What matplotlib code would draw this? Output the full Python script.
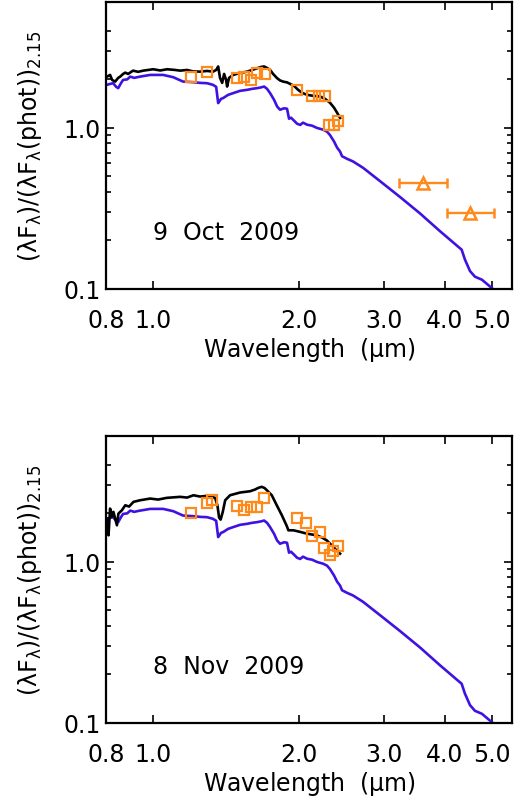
import matplotlib
matplotlib.use('Agg')
import matplotlib.pyplot as plt
from matplotlib.ticker import NullLocator, FixedLocator, NullFormatter

plt.rcParams['font.family'] = 'DejaVu Sans'
plt.rcParams['mathtext.fontset'] = 'dejavusans'
plt.rcParams['mathtext.default'] = 'regular'

# model photosphere (same model in both panels)
model_wave = [0.803, 0.815, 0.827, 0.839, 0.847, 0.859, 0.867, 0.884, 0.897, 0.914,
              0.927, 0.940, 0.986, 1.049, 1.100, 1.126, 1.153, 1.209, 1.250, 1.292,
              1.329, 1.349, 1.362, 1.381, 1.394, 1.428, 1.462, 1.511, 1.563, 1.600,
              1.638, 1.670, 1.694, 1.718, 1.743, 1.776, 1.802, 1.827, 1.863, 1.889,
              1.907, 1.925, 1.953, 1.981, 2.010, 2.038, 2.078, 2.127, 2.178, 2.241,
              2.284, 2.317, 2.362, 2.396, 2.430, 2.453, 2.512, 2.585, 2.710, 2.938,
              3.229, 3.552, 3.906, 4.330, 4.398, 4.505, 4.612, 4.768, 5.020]
model_flux = [1.843, 1.868, 1.887, 1.791, 1.758, 1.896, 1.977, 1.993, 2.073, 2.036,
              2.056, 2.073, 2.124, 2.124, 2.056, 1.993, 1.931, 1.915, 1.896, 1.887,
              1.843, 1.791, 1.420, 1.510, 1.525, 1.598, 1.637, 1.692, 1.717, 1.741,
              1.758, 1.778, 1.799, 1.741, 1.637, 1.489, 1.353, 1.292, 1.319, 1.310,
              1.137, 1.153, 1.105, 1.058, 1.040, 1.074, 1.043, 1.029, 0.996, 0.972,
              0.945, 0.899, 0.820, 0.752, 0.711, 0.665, 0.641, 0.617, 0.564, 0.466,
              0.372, 0.294, 0.228, 0.175, 0.152, 0.129, 0.119, 0.114, 0.100]

# observed spectrum, 9 Oct 2009
oct_wave = [0.803, 0.815, 0.823, 0.835, 0.847, 0.855, 0.867, 0.876, 0.888, 0.909,
            0.931, 0.954, 1.000, 1.034, 1.069, 1.110, 1.137, 1.175, 1.209, 1.250,
            1.292, 1.329, 1.349, 1.362, 1.374, 1.388, 1.401, 1.414, 1.421, 1.434,
            1.462, 1.511, 1.563, 1.600, 1.638, 1.670, 1.694, 1.718, 1.743, 1.768,
            1.802, 1.827, 1.854, 1.889, 1.917, 1.953, 1.991, 2.029, 2.078, 2.138,
            2.210, 2.262, 2.317, 2.362, 2.396, 2.430]
oct_flux = [2.073, 2.124, 1.977, 1.931, 2.036, 2.073, 2.154, 2.194, 2.154, 2.258,
            2.220, 2.258, 2.303, 2.264, 2.303, 2.280, 2.258, 2.280, 2.233, 2.226,
            2.248, 2.226, 2.280, 2.397, 2.036, 1.896, 2.154, 1.977, 1.799, 2.036,
            2.124, 2.185, 2.226, 2.280, 2.336, 2.380, 2.397, 2.345, 2.280, 2.154,
            2.027, 1.964, 1.931, 1.909, 1.868, 1.816, 1.717, 1.644, 1.598, 1.576,
            1.561, 1.510, 1.427, 1.329, 1.238, 1.148]

# observed spectrum, 8 Nov 2009
nov_wave = [0.803, 0.809, 0.815, 0.822, 0.828, 0.842, 0.848, 0.862, 0.876, 0.892,
            0.911, 0.940, 0.986, 1.024, 1.067, 1.137, 1.175, 1.211, 1.250, 1.290,
            1.323, 1.342, 1.357, 1.368, 1.378, 1.392, 1.408, 1.441, 1.511, 1.585,
            1.623, 1.649, 1.675, 1.698, 1.716, 1.757, 1.799, 1.843, 1.887, 1.901,
            1.947, 2.010, 2.075, 2.175, 2.231, 2.281, 2.317, 2.353, 2.392, 2.430]
nov_flux = [1.849, 1.457, 2.134, 1.904, 2.036, 1.681, 1.987, 2.083, 2.237, 2.196,
            2.349, 2.403, 2.462, 2.427, 2.487, 2.523, 2.497, 2.581, 2.533, 2.559,
            2.515, 2.487, 2.237, 1.876, 1.823, 2.036, 2.403, 2.581, 2.683, 2.733,
            2.801, 2.870, 2.911, 2.861, 2.773, 2.581, 2.237, 1.940, 1.662, 1.565,
            1.565, 1.530, 1.492, 1.457, 1.410, 1.356, 1.294, 1.234, 1.170, 1.121]

# narrow-band photometry
oct_phot_wave = [1.196, 1.294, 1.488, 1.542, 1.590, 1.638, 1.698, 1.981, 2.127, 2.194,
                 2.262, 2.306, 2.362, 2.409]
oct_phot_flux = [2.056, 2.207, 2.027, 2.050, 1.964, 2.194, 2.154, 1.704, 1.569, 1.576,
                 1.576, 1.036, 1.036, 1.097]
nov_phot_wave = [1.198, 1.294, 1.323, 1.492, 1.542, 1.591, 1.641, 1.696, 1.982, 2.071,
                 2.130, 2.204, 2.254, 2.312, 2.353, 2.407]
nov_phot_flux = [2.016, 2.319, 2.403, 2.218, 2.083, 2.187, 2.187, 2.476, 1.868, 1.742,
                 1.440, 1.520, 1.218, 1.105, 1.159, 1.248]

# IRAC points (9 Oct only)
irac_wave = [3.6, 4.5]
irac_flux = [0.456, 0.294]
irac_lo = [3.22, 4.03]
irac_hi = [4.03, 5.05]

xtick_vals = [0.8, 1.0, 2.0, 3.0, 4.0, 5.0]
ytick_vals = [0.1, 1.0]
yminor_vals = [0.2, 0.3, 0.4, 0.5, 0.6, 0.7, 0.8, 0.9, 2.0, 3.0, 4.0]

blue = '#3f12e2'
orange = '#ff8a1c'


def draw_panel(ax, wave, flux, pwave, pflux, label, irac=False):
    ax.plot(model_wave, model_flux, color=blue, lw=1.9)
    ax.plot(wave, flux, color='black', lw=1.9)
    ax.plot(pwave, pflux, 's', mfc='none', mec=orange, ms=7.5, mew=1.6)
    if irac:
        xerr = [[w - l for w, l in zip(irac_wave, irac_lo)],
                [h - w for w, h in zip(irac_wave, irac_hi)]]
        ax.errorbar(irac_wave, irac_flux, xerr=xerr, fmt='^', mfc='none', mec=orange,
                    ecolor=orange, ms=8, mew=1.8, elinewidth=1.7, capsize=3.5, capthick=1.7)
    ax.set_xscale('log')
    ax.set_yscale('log')
    ax.set_xlim(0.8, 5.5)
    ax.set_ylim(0.1, 6.0)
    ax.set_xticks(xtick_vals, ['%.1f' % v for v in xtick_vals])
    ax.xaxis.set_minor_locator(NullLocator())
    ax.set_yticks(ytick_vals, ['%.1f' % v for v in ytick_vals])
    ax.yaxis.set_minor_locator(FixedLocator(yminor_vals))
    ax.yaxis.set_minor_formatter(NullFormatter())
    ax.tick_params(which='both', direction='in', top=True, right=True, labelsize=17)
    ax.tick_params(which='major', length=5.5, width=1.2)
    ax.tick_params(which='minor', length=3.5, width=1.2)
    ax.tick_params(axis='x', pad=14)
    ax.tick_params(axis='y', pad=4)
    for s in ax.spines.values():
        s.set_linewidth(1.6)
    ax.set_xlabel(r'Wavelength  ($\mu$m)', fontsize=17, labelpad=2)
    ax.text(-0.187, 0.5, r'$(\lambda F_\lambda)/(\lambda F_\lambda(phot))_{2.15}$',
            transform=ax.transAxes, rotation=90, ha='center', va='center', fontsize=17)
    ax.text(1.0, 0.225, label, fontsize=17, ha='left', va='center')


fig = plt.figure(figsize=(5.23, 8.03), dpi=100)
ax1 = fig.add_axes([0.203, 0.639, 0.776, 0.357])
ax2 = fig.add_axes([0.203, 0.0984, 0.776, 0.3572])

draw_panel(ax1, oct_wave, oct_flux, oct_phot_wave, oct_phot_flux, '9  Oct  2009', irac=True)
draw_panel(ax2, nov_wave, nov_flux, nov_phot_wave, nov_phot_flux, '8  Nov  2009')

fig.savefig('out.png', dpi=100)
